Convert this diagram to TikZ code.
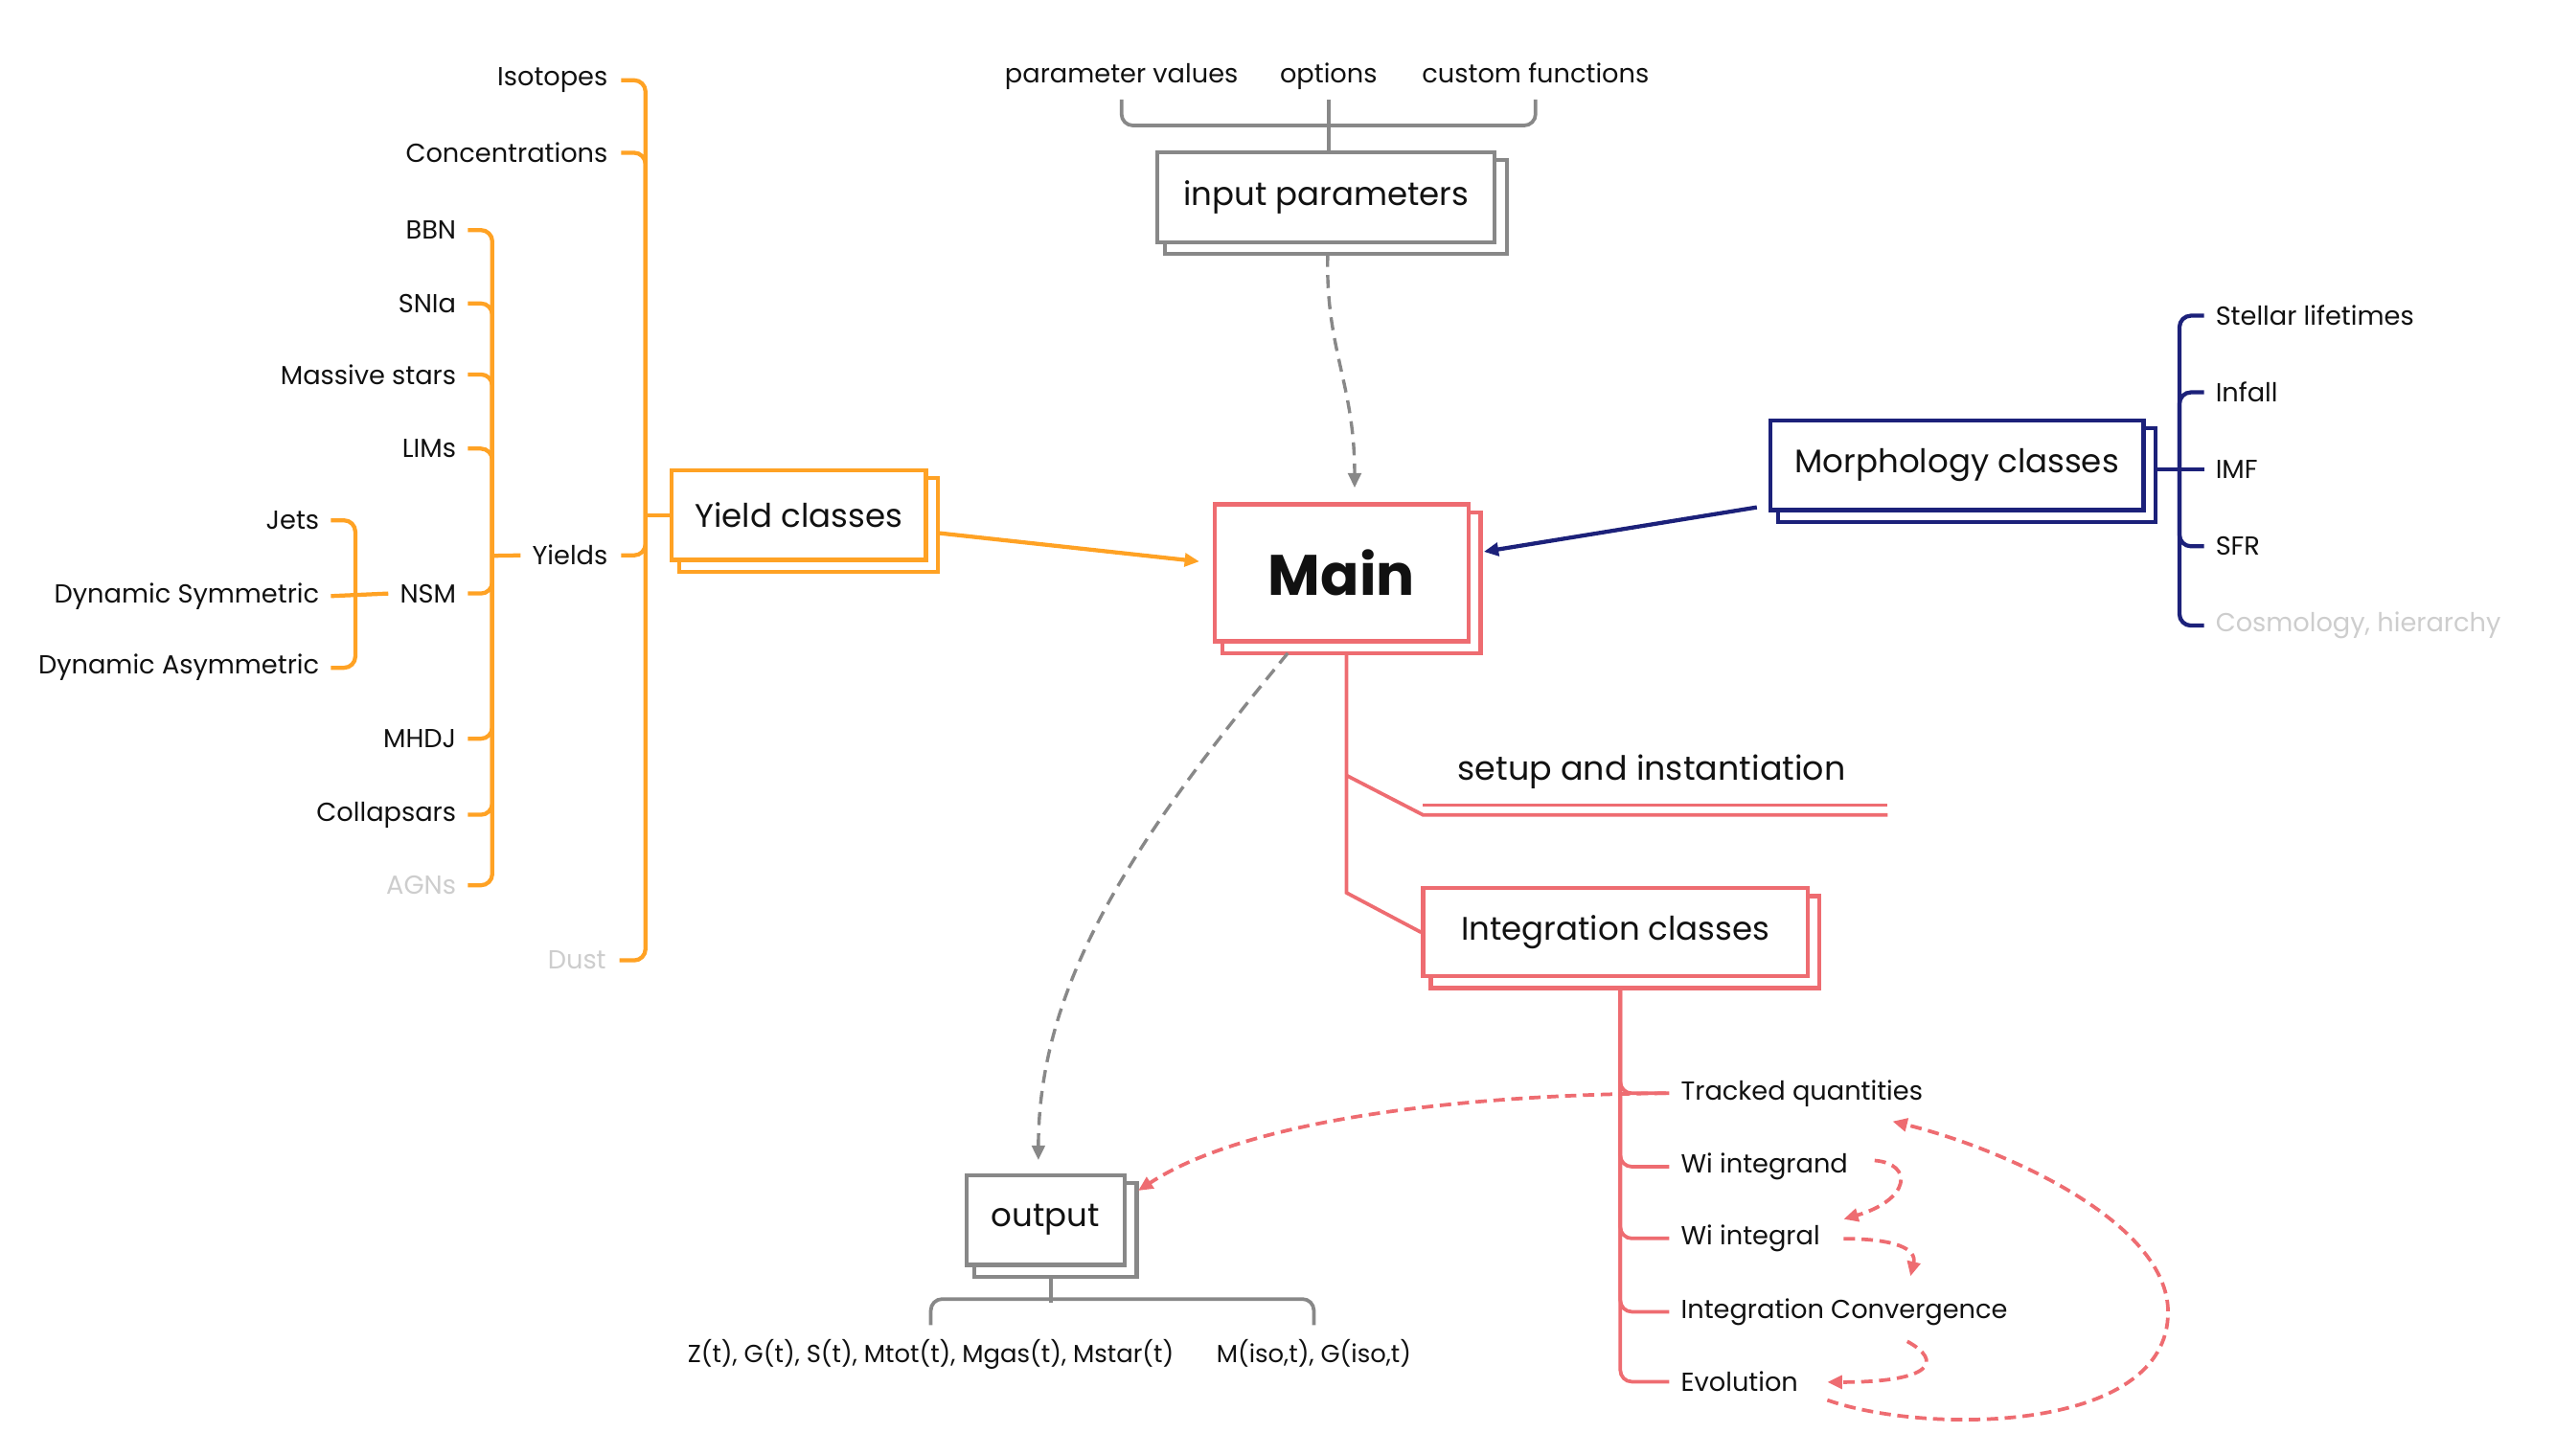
\documentclass[tikz,border=0pt]{standalone}
\usepackage{fontspec}
\setmainfont{Poppins}
\usetikzlibrary{arrows.meta,backgrounds,calc}
\definecolor{orng}{RGB}{255,162,36}
\definecolor{salm}{RGB}{238,108,113}
\definecolor{navy}{RGB}{28,33,122}
\definecolor{grayl}{RGB}{136,136,136}
\definecolor{faint}{RGB}{205,205,205}
\definecolor{ink}{RGB}{17,17,17}
\newcommand\stackback[2]{\begin{scope}[on background layer]\draw[#2, line width=2.5pt, fill=white] ([shift={(6,6)}]#1.south west) rectangle ([shift={(6,6)}]#1.north east);\end{scope}}
\begin{document}
\begin{tikzpicture}[x=1pt,y=-1pt,
  itm/.style={font=\fontsize{16}{19}\selectfont, inner sep=0pt, text=ink, yshift=-3pt},
  lft/.style={itm, anchor=mid east},
  rgt/.style={itm, anchor=mid west},
  box/.style={draw, line width=2.5pt, fill=white, inner sep=0pt, font=\fontsize{20}{24}\selectfont, text=ink},
  ob/.style={draw=orng, line width=2.5pt, rounded corners=7pt},
  nb/.style={draw=navy, line width=2.5pt, rounded corners=7pt},
  rl/.style={draw=salm, line width=2.2pt},
  rb/.style={draw=salm, line width=2.2pt, rounded corners=7pt},
  gb/.style={draw=grayl, line width=2.2pt, rounded corners=7pt},
  gd/.style={draw=grayl, line width=2pt, dash pattern=on 8pt off 5pt},
  rd/.style={draw=salm, line width=2.2pt, dash pattern=on 7pt off 4pt},
  arrowhd/.style={-{Triangle[length=9pt,width=8pt]}}
]
\useasboundingbox (0,0) rectangle (1568,893);

% ---------- boxes ----------
\node[box, draw=salm, minimum width=156pt, minimum height=84pt, font=\fontsize{35}{40}\selectfont\bfseries] (main) at (823,351.5) {Main};
\stackback{main}{salm}
\node[box, draw=grayl, minimum width=207pt, minimum height=55pt] (inp) at (813.5,121) {input parameters};
\stackback{inp}{grayl}
\node[box, draw=orng, minimum width=156pt, minimum height=55pt] (yc) at (490,316) {Yield classes};
\stackback{yc}{orng}
\node[box, draw=navy, minimum width=229pt, minimum height=55pt] (morph) at (1200.5,285.5) {Morphology classes};
\stackback{morph}{navy}
\node[box, draw=salm, minimum width=236pt, minimum height=54pt] (integ) at (991,572) {Integration classes};
\stackback{integ}{salm}
\node[box, draw=grayl, minimum width=97pt, minimum height=55pt] (out) at (641.5,748.5) {output};
\stackback{out}{grayl}

% ---------- orange tree ----------
\node[lft] (iso) at (373,47) {Isotopes};
\node[lft] (conc) at (373,94) {Concentrations};
\node[lft] (yld) at (373,341) {Yields};
\node[lft, text=faint] (dust) at (372,589) {Dust};
\coordinate (ox) at (396,316);
\draw[ob] ([xshift=8pt]iso.east) -| (ox) |- ([xshift=8pt]dust.east);
\draw[ob] ([xshift=8pt]conc.east) -| (ox);
\draw[ob] ([xshift=8pt]yld.east) -| (ox);
\draw[ob] (ox) -- (yc.west);

\node[lft] (bbn) at (280,141) {BBN};
\node[lft] (snia) at (280,186) {SNIa};
\node[lft] (mass) at (280,230) {Massive stars};
\node[lft] (lims) at (280,275) {LIMs};
\node[lft] (nsm) at (280,364) {NSM};
\node[lft] (mhdj) at (280,453) {MHDJ};
\node[lft] (coll) at (280,498) {Collapsars};
\node[lft, text=faint] (agn) at (280,543) {AGNs};
\coordinate (ix) at (302,341);
\draw[ob] ([xshift=7pt]bbn.east) -| (ix) |- ([xshift=7pt]agn.east);
\foreach \n in {snia,mass,lims,nsm,mhdj,coll} \draw[ob] ([xshift=7pt]\n.east) -| (ix);
\draw[ob] (ix) -- ([xshift=-7pt]yld.west);

\node[lft] (jets) at (196,319) {Jets};
\node[lft] (dsym) at (196,364) {Dynamic Symmetric};
\node[lft] (dasym) at (196,408) {Dynamic Asymmetric};
\coordinate (jx) at (218,364);
\draw[ob] ([xshift=7pt]jets.east) -| (jx) |- ([xshift=7pt]dasym.east);
\draw[ob] ([xshift=7pt]dsym.east) -- ([xshift=-7pt]nsm.west);

\draw[ob, rounded corners=0pt, arrowhd] ([shift={(6,11)}]yc.east) -- ([shift={(-8,-7)}]main.west);

% ---------- input parameters ----------
\node[itm, anchor=mid] (pv) at (688,45) {parameter values};
\node[itm, anchor=mid] (opt) at (815,45) {options};
\node[itm, anchor=mid] (cf) at (942,45) {custom functions};
\draw[gb] (688,61) |- (815,77) -| (942,61);
\coordinate (bt) at (815,61);
\draw[gb] (bt) -- (bt |- inp.north);
\draw[gd, arrowhd] ([shift={(1,6)}]inp.south) .. controls (813,215) and (831,235) .. ($(main.north)+(8,-9)$);

% ---------- morphology ----------
\node[rgt] (stl) at (1359,194) {Stellar lifetimes};
\node[rgt] (inf) at (1359,241) {Infall};
\node[rgt] (imf) at (1359,288) {IMF};
\node[rgt] (sfr) at (1359,335) {SFR};
\node[rgt, text=faint] (cosm) at (1359,382) {Cosmology, hierarchy};
\coordinate (nx) at (1337,288);
\coordinate (mr) at ([xshift=6pt]morph.east);
\draw[nb] ([xshift=-7pt]stl.west) -| (nx) |- ([xshift=-7pt]cosm.west);
\draw[nb] ([xshift=-7pt]inf.west) -| (nx);
\draw[nb] ([xshift=-7pt]sfr.west) -| (nx);
\draw[nb] (mr |- imf) -- ([xshift=-7pt]imf.west);
\draw[nb, rounded corners=0pt, arrowhd] ([shift={(-7,-3)}]morph.south west) -- ([shift={(8,-13)}]main.east);

% ---------- main children ----------
\node[itm, anchor=mid west, font=\fontsize{20.5}{24}\selectfont] (setup) at (894,473) {setup and instantiation};
\coordinate (ms) at ([shift={(3,6)}]main.south);
\draw[rl] (ms) -- ++(0,147) -- (integ.west);
\draw[rl] ($(ms)+(0,75)$) -- (873,500) -- (1158,500);
\draw[rl] (873,494) -- (1158,494);

% ---------- integration ----------
\node[rgt] (trk) at (1031,669) {Tracked quantities};
\node[rgt] (wig) at (1031,714) {Wi integrand};
\node[rgt] (wil) at (1031,758) {Wi integral};
\node[rgt] (icv) at (1031,803) {Integration Convergence};
\node[rgt] (evo) at (1031,848) {Evolution};
\coordinate (is) at ([shift={(3,6)}]integ.south);
\foreach \n in {trk,wig,wil,icv,evo} \draw[rb] (is) |- ([xshift=-7pt]\n.west);

\draw[rd, arrowhd] ([xshift=-9pt]trk.west) .. controls (880,672) and (760,690) .. ([shift={(7,-18)}]out.east);
\draw[rd, arrowhd] (1150,712) .. controls (1174,714) and (1172,736) .. (1131,748);
\draw[rd, arrowhd] (1131,760) .. controls (1162,760) and (1176,766) .. (1172,783);
\draw[rd, arrowhd] (1170,823) .. controls (1192,835) and (1186,848) .. (1121,848);
\draw[rd, arrowhd] (1121,859) .. controls (1180,880) and (1330,880) .. (1330,805) .. controls (1330,750) and (1230,705) .. (1161,688);

% ---------- output ----------
\draw[gd, arrowhd] ([shift={(-33,6)}]main.south) .. controls (700,510) and (637,600) .. ([shift={(-4.5,-8)}]out.north);
\node[itm, anchor=mid, font=\fontsize{15.2}{18}\selectfont] (zt) at (571,830) {Z(t), G(t), S(t), Mtot(t), Mgas(t), Mstar(t)};
\node[itm, anchor=mid, font=\fontsize{15.2}{18}\selectfont] (mi) at (806,830) {M(iso,t), G(iso,t)};
\draw[gb] ([shift={(3,6)}]out.south) -- ++(0,16);
\draw[gb] (571,813) |- (806,797) -- (806,813);
\end{tikzpicture}
\end{document}
